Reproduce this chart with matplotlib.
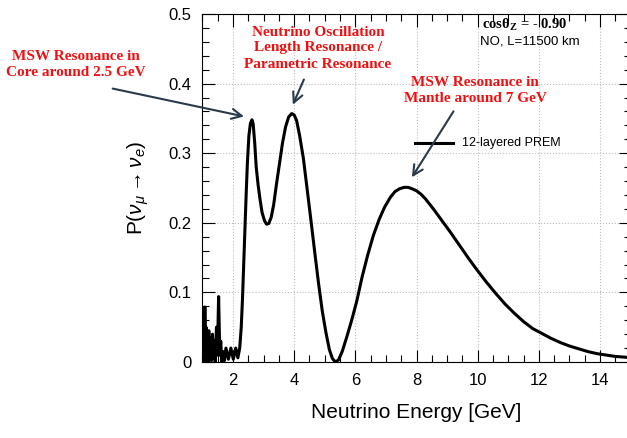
import matplotlib as mpl
mpl.use('Agg')
import matplotlib.pyplot as plt
from matplotlib import ticker

# low energy fast oscillations
x_low = [1.00, 1.02, 1.03, 1.05, 1.07, 1.08, 1.10, 1.12, 1.14, 1.16, 1.18, 1.21, 1.24, 1.27,
         1.30, 1.33, 1.36, 1.39, 1.42, 1.46, 1.49, 1.53, 1.57, 1.60, 1.63, 1.68, 1.72, 1.77,
         1.85, 1.93, 2.01, 2.09]
y_low = [0.020, 0.060, 0.000, 0.075, 0.010, 0.079, 0.000, 0.050, 0.005, 0.040, 0.000, 0.045,
         0.003, 0.035, 0.002, 0.040, 0.005, 0.030, 0.000, 0.050, 0.010, 0.094, 0.010, 0.030,
         0.000, 0.015, 0.002, 0.020, 0.004, 0.020, 0.004, 0.020]

# main resonance structure
x_main = [2.16, 2.22, 2.27, 2.31, 2.35, 2.39, 2.43, 2.47, 2.52, 2.57, 2.62, 2.66, 2.71, 2.76,
          2.82, 2.88, 2.95, 3.03, 3.10, 3.17, 3.25, 3.33, 3.42, 3.52, 3.62, 3.72, 3.82, 3.92,
          4.00, 4.08, 4.18, 4.30, 4.42, 4.55, 4.68, 4.80, 4.92, 5.04, 5.15, 5.25, 5.35, 5.45,
          5.57, 5.72, 5.88, 6.05, 6.22, 6.40, 6.59, 6.78, 6.95, 7.15, 7.30, 7.45, 7.60, 7.72,
          7.85, 8.00, 8.15, 8.30, 8.55, 8.80, 9.10, 9.40, 9.70, 10.0, 10.3, 10.6, 10.9, 11.2,
          11.5, 11.8, 12.1, 12.4, 12.7, 13.0, 13.3, 13.6, 13.9, 14.2, 14.5, 14.8, 15.0]
y_main = [0.006, 0.020, 0.050, 0.090, 0.140, 0.190, 0.240, 0.285, 0.325, 0.343, 0.348, 0.342,
          0.315, 0.280, 0.255, 0.235, 0.215, 0.203, 0.198, 0.199, 0.208, 0.226, 0.255, 0.285,
          0.315, 0.338, 0.352, 0.357, 0.355, 0.347, 0.325, 0.293, 0.250, 0.203, 0.155, 0.112,
          0.073, 0.042, 0.018, 0.005, 0.000, 0.003, 0.015, 0.036, 0.060, 0.088, 0.122, 0.153,
          0.182, 0.205, 0.222, 0.237, 0.245, 0.249, 0.251, 0.251, 0.249, 0.246, 0.241, 0.234,
          0.220, 0.205, 0.187, 0.168, 0.149, 0.131, 0.114, 0.098, 0.083, 0.070, 0.058, 0.048,
          0.041, 0.034, 0.028, 0.023, 0.019, 0.015, 0.012, 0.010, 0.008, 0.007, 0.006]

x_ticks = [2, 4, 6, 8, 10, 12, 14]
y_ticks = [0, 0.1, 0.2, 0.3, 0.4, 0.5]
y_ticklabels = ['0', '0.1', '0.2', '0.3', '0.4', '0.5']

plt.rcParams['font.family'] = ['Liberation Sans', 'DejaVu Sans']
plt.rcParams['mathtext.fontset'] = 'custom'
plt.rcParams['mathtext.rm'] = 'Liberation Sans'
plt.rcParams['mathtext.it'] = 'Liberation Sans:italic'

fig = plt.figure(figsize=(6.27, 4.38), dpi=100)
ax = fig.add_axes([0.3228, 0.1735, 0.683, 0.7945])

ax.plot(x_low + x_main, y_low + y_main, color='black', lw=2.2, solid_joinstyle='round')

ax.set_xlim(1, 15)
ax.set_ylim(0, 0.5)
ax.set_xticks(x_ticks)
ax.xaxis.set_minor_locator(ticker.MultipleLocator(0.5))
ax.set_yticks(y_ticks)
ax.set_yticklabels(y_ticklabels)
ax.yaxis.set_minor_locator(ticker.MultipleLocator(0.02))
ax.tick_params(which='both', direction='in', top=True, right=True, labelsize=12)
ax.tick_params(which='major', length=9, width=0.8)
ax.tick_params(which='minor', length=5, width=0.8)
ax.tick_params(axis='x', pad=8)
ax.tick_params(axis='y', pad=8)
ax.grid(True, which='major', ls=':', color='#bbbbbb', lw=0.8)

ax.set_xlabel('Neutrino Energy [GeV]', fontsize=15, labelpad=11)
ax.set_ylabel(r'P($\nu_{\mu}\rightarrow\nu_{e}$)', fontsize=15, labelpad=12)

# legend-like entry
ax.plot([7.95, 9.19], [0.315, 0.315], color='black', lw=2.2)
ax.text(9.5, 0.315, '12-layered PREM', fontsize=9, va='center')

ax.text(11.55, 0.484, r'cos$\mathregular{\theta_Z}$ = - 0.90', fontsize=10.5, ha='center',
        va='center', family='Liberation Serif', weight='bold')
ax.text(11.71, 0.46, 'NO, L=11500 km', fontsize=9.5, ha='center', va='center')

red = '#ee1111'
arrow_col = '#2b3a4a'
serif = dict(family='Liberation Serif', weight='bold', color=red, fontsize=11,
             ha='center', va='center', linespacing=1.3)

fig.text(76 / 627, 1 - 65 / 438, 'MSW Resonance in\nCore around 2.5 GeV', **serif)
fig.text(318 / 627, 1 - 48 / 438, 'Neutrino Oscillation\nLength Resonance /\nParametric Resonance', **serif)
fig.text(475 / 627, 1 - 91 / 438, 'MSW Resonance in\nMantle around 7 GeV', **serif)

ann = dict(arrowstyle='->', color=arrow_col, lw=1.5, mutation_scale=18)
ax.annotate('', xy=(2.45, 0.352), xycoords='data', xytext=(110 / 627, 1 - 88 / 438),
            textcoords='figure fraction', arrowprops=ann)
ax.annotate('', xy=(3.92, 0.366), xycoords='data', xytext=(305 / 627, 1 - 77 / 438),
            textcoords='figure fraction', arrowprops=ann)
ax.annotate('', xy=(7.80, 0.262), xycoords='data', xytext=(455 / 627, 1 - 109 / 438),
            textcoords='figure fraction', arrowprops=ann)

fig.savefig('out.png', dpi=100)
